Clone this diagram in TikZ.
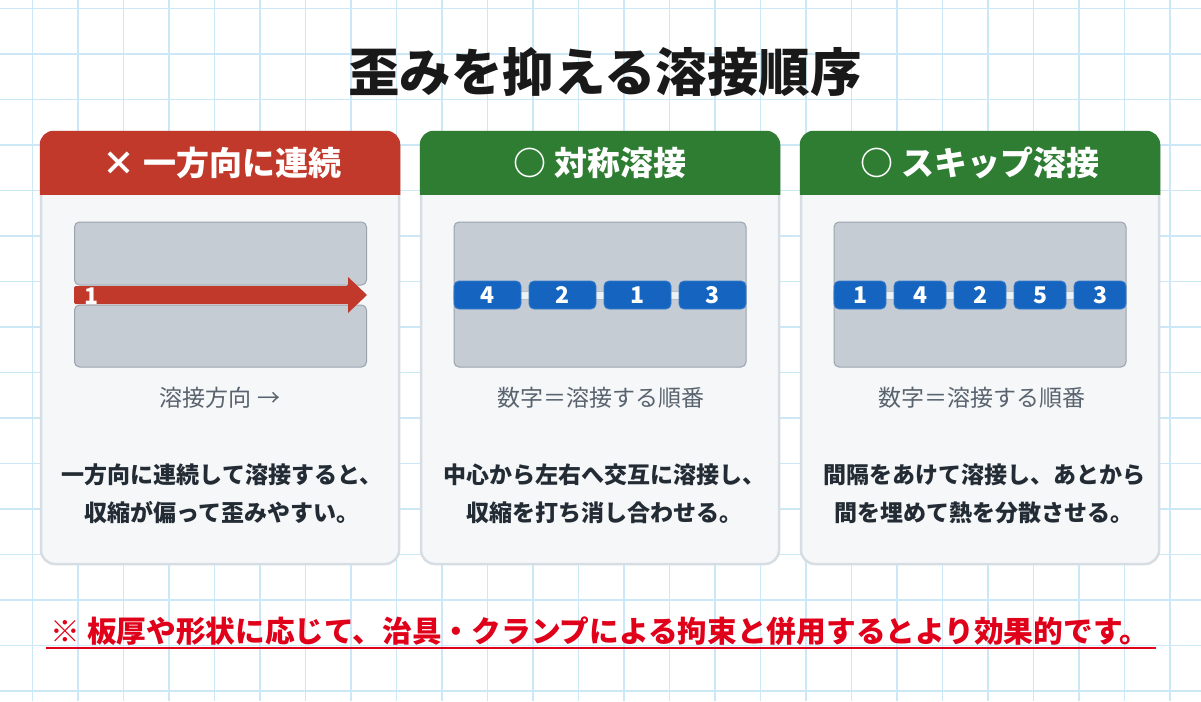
\documentclass[tikz,border=0pt]{standalone}
\usepackage{fontspec}
\setmainfont{Noto Sans CJK JP}
\usetikzlibrary{positioning}
\definecolor{gridblue}{HTML}{CCE8F6}
\definecolor{badred}{HTML}{C0392B}
\definecolor{goodgreen}{HTML}{2E7D32}
\definecolor{weldblue}{HTML}{1565C0}
\definecolor{platefill}{HTML}{C5CCD4}
\definecolor{plateedge}{HTML}{9AA3AD}
\definecolor{cardfill}{HTML}{F5F7F9}
\definecolor{cardedge}{HTML}{D7DDE3}
\definecolor{jointfill}{HTML}{EEF1F4}
\definecolor{notered}{HTML}{E0001A}
\definecolor{textdark}{HTML}{232B34}
\definecolor{textgray}{HTML}{59636E}
\tikzset{
	gridline/.style={
		draw=gridblue,
		line width=1.5pt
	},
	card/.style={
		rectangle,
		draw=cardedge,
		line width=2.5pt,
		fill=cardfill,
		rounded corners=14pt,
		minimum width=358pt,
		minimum height=432pt,
		inner sep=0pt
	},
	plate/.style={
		rectangle,
		draw=plateedge,
		line width=1pt,
		fill=platefill,
		rounded corners=5pt,
		minimum width=292pt,
		inner sep=0pt
	},
	weld/.style={
		rectangle,
		draw=weldblue!85!white,
		line width=0.8pt,
		fill=weldblue,
		rounded corners=5pt,
		minimum height=28pt,
		inner sep=0pt,
		outer sep=0pt,
		text=white,
		font=\bfseries\fontsize{23}{24}\selectfont
	},
	headtext/.style={
		text=white,
		font=\bfseries\fontsize{33}{36}\selectfont
	},
	caption/.style={
		text=textgray,
		font=\fontsize{23}{26}\selectfont
	},
	desc/.style={
		text=textdark,
		align=center,
		font=\bfseries\fontsize{23}{38}\selectfont
	}
}

\begin{document}
\begin{tikzpicture}[x=1pt,y=-1pt,node distance=8pt]
	\fill[white] (0,0) rectangle (1201,701);
	\useasboundingbox (0,0) rectangle (1201,701);
	% grid paper
	\foreach \gx in {0,...,25}
		\draw[gridline] (32.3+45.5*\gx,0) -- ++(0,701);
	\foreach \gy in {0,...,15}
		\draw[gridline] (0,8.7+45.5*\gy) -- ++(1201,0);

	\node[text=black!90,font=\bfseries\fontsize{51.5}{54}\selectfont] (title) at (605,72) {歪みを抑える溶接順序};

	% cards
	\node[card] (card1) at (220,348) {};
	\node[card] (card2) at (600,348) {};
	\node[card] (card3) at (980,348) {};
	\fill[badred] ([yshift=-64pt]card1.north west) -- ([yshift=-14pt]card1.north west) arc[start angle=180,end angle=90,radius=14pt] -- ([xshift=-14pt]card1.north east) arc[start angle=90,end angle=0,radius=14pt] -- ([yshift=-64pt]card1.north east) -- cycle;
	\fill[goodgreen] ([yshift=-64pt]card2.north west) -- ([yshift=-14pt]card2.north west) arc[start angle=180,end angle=90,radius=14pt] -- ([xshift=-14pt]card2.north east) arc[start angle=90,end angle=0,radius=14pt] -- ([yshift=-64pt]card2.north east) -- cycle;
	\fill[goodgreen] ([yshift=-64pt]card3.north west) -- ([yshift=-14pt]card3.north west) arc[start angle=180,end angle=90,radius=14pt] -- ([xshift=-14pt]card3.north east) arc[start angle=90,end angle=0,radius=14pt] -- ([yshift=-64pt]card3.north east) -- cycle;
	\node[headtext] (head1) at (222,163) {× 一方向に連続};
	\node[headtext] (head2) at (600,163) {○ 対称溶接};
	\node[headtext] (head3) at (980,163) {○ スキップ溶接};

	% one direction
	\node[plate,minimum height=63pt] (plate1a) at (220.5,253.5) {};
	\node[plate,minimum height=62pt] (plate1b) at (220.5,336) {};
	\fill[badred,rounded corners=1.5pt] (74,286) -- (348,286) [sharp corners]-- (348,277) -- (367,295) -- (348,313) -- (348,304) [rounded corners=1.5pt]-- (74,304) -- cycle;
	\node[text=white,font=\bfseries\fontsize{23}{24}\selectfont] (run1) at (92,296) {1};
	\node[caption] (cap1) at (220,398) {溶接方向 →};
	\node[desc] (desc1) at (222,494) {一方向に連続して溶接すると、\\収縮が偏って歪みやすい。};

	% symmetric
	\node[plate,minimum height=145pt] (plate2) at (600,294.5) {};
	\fill[jointfill,draw=plateedge!70,line width=0.6pt] (plate2.west |- 0,291) rectangle (plate2.east |- 0,299);
	\node[weld,minimum width=67pt] (s2a) at (487.5,295) {4};
	\node[weld,minimum width=67pt,right=of s2a] (s2b) {2};
	\node[weld,minimum width=67pt,right=of s2b] (s2c) {1};
	\node[weld,minimum width=67pt,right=of s2c] (s2d) {3};
	\node[caption] (cap2) at (601,398) {数字＝溶接する順番};
	\node[desc] (desc2) at (604,494) {中心から左右へ交互に溶接し、\\収縮を打ち消し合わせる。};

	% skip
	\node[plate,minimum height=145pt] (plate3) at (980,294.5) {};
	\fill[jointfill,draw=plateedge!70,line width=0.6pt] (plate3.west |- 0,291) rectangle (plate3.east |- 0,299);
	\node[weld,minimum width=52pt] (s3a) at (860,295) {1};
	\node[weld,minimum width=52pt,right=of s3a] (s3b) {4};
	\node[weld,minimum width=52pt,right=of s3b] (s3c) {2};
	\node[weld,minimum width=52pt,right=of s3c] (s3d) {5};
	\node[weld,minimum width=52pt,right=of s3d] (s3e) {3};
	\node[caption] (cap3) at (982,398) {数字＝溶接する順番};
	\node[desc] (desc3) at (984,494) {間隔をあけて溶接し、あとから\\間を埋めて熱を分散させる。};

	% note
	\node[text=notered,font=\bfseries\fontsize{29.7}{32}\selectfont,anchor=base,inner sep=0pt] (note) at (600,642) {※ 板厚や形状に応じて、治具・クランプによる拘束と併用するとより効果的です。};
	\draw[notered,line width=2.5pt] ([xshift=-4pt,yshift=-6pt]note.base west) -- ([xshift=6pt,yshift=-6pt]note.base east);
\end{tikzpicture}
\end{document}
